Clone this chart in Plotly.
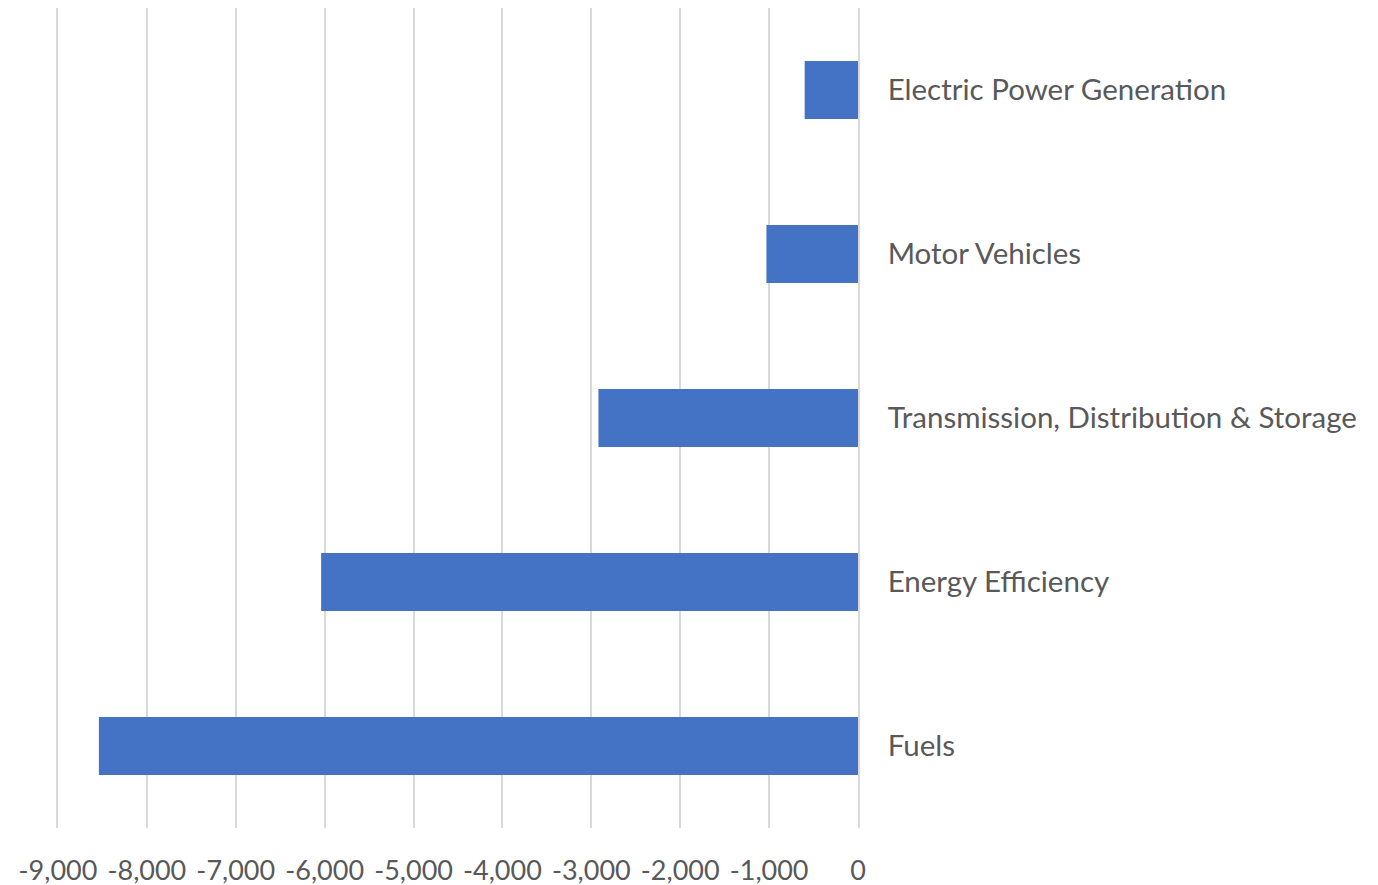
import plotly.graph_objects as go

# Sectors (bottom to top) and their values
categories = [
    "Fuels",
    "Energy Efficiency",
    "Transmission, Distribution & Storage",
    "Motor Vehicles",
    "Electric Power Generation",
]
values = [-8540, -6040, -2920, -1030, -600]

tick_vals = list(range(-9000, 1, 1000))
tick_text = [f"{v:,}" for v in tick_vals]

font_family = "Lato, 'Open Sans', sans-serif"
text_color = "#595959"
grid_color = "#D9D9D9"

fig = go.Figure(
    go.Bar(
        x=values,
        y=categories,
        orientation="h",
        marker=dict(color="#4472C4", line=dict(width=0)),
        hoverinfo="x+y",
    )
)

fig.update_layout(
    width=1378,
    height=885,
    margin=dict(l=58, r=520, t=8, b=57, autoexpand=False),
    paper_bgcolor="white",
    plot_bgcolor="white",
    bargap=0.646,
    showlegend=False,
    font=dict(family=font_family, color=text_color, size=27),
    xaxis=dict(
        range=[-9000, 0],
        tickvals=tick_vals,
        ticktext=tick_text,
        showgrid=True,
        gridcolor=grid_color,
        gridwidth=1.5,
        zeroline=False,
        showline=False,
        ticks="",
        automargin=False,
        ticklabelstandoff=24,
        tickfont=dict(size=27, color=text_color),
        fixedrange=True,
    ),
    yaxis=dict(
        side="right",
        showgrid=False,
        zeroline=False,
        showline=True,
        mirror=True,
        linecolor=grid_color,
        linewidth=1.5,
        ticks="",
        automargin=False,
        ticklabelstandoff=22,
        tickfont=dict(size=29.5, color=text_color),
        fixedrange=True,
    ),
)

fig.write_html("out.html")
